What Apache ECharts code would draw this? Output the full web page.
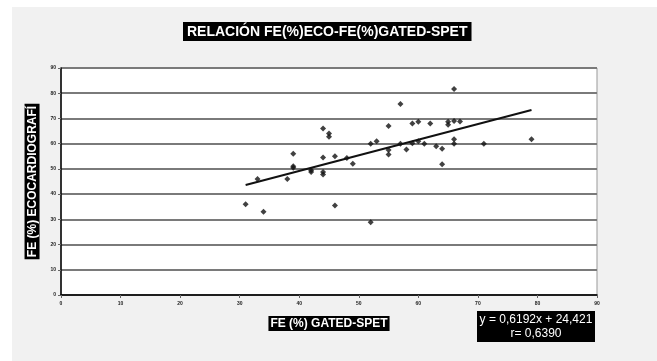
<!DOCTYPE html>
<html>
<head>
<meta charset="utf-8">
<script src="https://cdn.jsdelivr.net/npm/echarts@6/dist/echarts.min.js"></script>
<style>
  html, body { margin: 0; padding: 0; background: #fff; }
  #chart { width: 657px; height: 361px; }
</style>
</head>
<body>
<div id="chart"></div>
<script>
// FE(%) gated-SPET (x) vs FE(%) ecocardiografia (y)
const gatedX = [31, 34, 33, 38, 39, 39, 39, 42, 42, 44, 44, 44, 44, 45, 45, 46, 46, 48, 49, 52, 52, 53, 55, 55, 55, 57, 57, 58, 59, 59, 60, 60, 61, 62, 63, 64, 64, 65, 65, 66, 67, 66, 66, 66, 71, 79];
const ecoY = [36, 33, 46, 46, 56, 51, 50.5, 49.5, 48.8, 66, 54.5, 48.8, 47.8, 64, 62.7, 55, 35.5, 54.3, 52, 60, 28.8, 61, 67, 57.5, 55.7, 75.7, 60, 57.7, 68, 60.2, 68.7, 61, 60, 68, 59, 58, 51.8, 68.7, 67.5, 69, 68.8, 81.7, 61.8, 60, 60, 61.8];
const slope = 0.6192;
const intercept = 24.421;
const xTicks = ["0", "10", "20", "30", "40", "50", "60", "70", "80", "90"];
const yTicks = ["0", "10", "20", "30", "40", "50", "60", "70", "80", "90"];

const points = gatedX.map((x, i) => [x, ecoY[i]]);
const xMin = Math.min(...gatedX);
const xMax = Math.max(...gatedX);
const trend = [[xMin, slope * xMin + intercept], [xMax, slope * xMax + intercept]];

const myChart = echarts.init(document.getElementById("chart"));
const font = "'Liberation Sans', Arial, sans-serif";

myChart.setOption({
  backgroundColor: "#fff",
  animation: false,
  graphic: [
    {
      type: "rect",
      z: -10,
      shape: { x: 12, y: 7, width: 645, height: 354 },
      style: { fill: "#f1f1f1" }
    },
    {
      type: "rect",
      z: -9,
      shape: { x: 61, y: 68, width: 536, height: 227 },
      style: { fill: "#fff" }
    },
    {
      type: "rect",
      z: 10,
      shape: { x: 477, y: 311, width: 118, height: 31 },
      style: { fill: "#000" }
    },
    {
      type: "text",
      z: 11,
      style: {
        x: 536,
        y: 313,
        text: "y = 0,6192x + 24,421\nr= 0,6390",
        fill: "#fff",
        font: "12px " + font,
        lineHeight: 14,
        align: "center",
        verticalAlign: "top"
      }
    }
  ],
  title: {
    text: "RELACIÓN FE(%)ECO-FE(%)GATED-SPET",
    left: 183,
    top: 22,
    padding: [3, 4, 2, 4],
    backgroundColor: "#000",
    textStyle: { color: "#fff", fontSize: 14, fontWeight: "bold", fontFamily: font }
  },
  grid: {
    left: 61,
    right: 60,
    top: 68,
    bottom: 66,
    show: true,
    borderColor: "#999",
    borderWidth: 1
  },
  xAxis: {
    type: "value",
    min: 0,
    max: 90,
    interval: 10,
    name: "FE (%) GATED-SPET",
    nameLocation: "middle",
    nameGap: 21,
    nameTextStyle: {
      color: "#fff", backgroundColor: "#000", fontSize: 12, fontWeight: "bold",
      fontFamily: font, padding: [2, 2, 1, 2]
    },
    axisLine: { show: true, lineStyle: { color: "#000", width: 1.5 } },
    axisTick: { show: true, length: 3, lineStyle: { color: "#666" } },
    axisLabel: {
      color: "#222", fontSize: 5, fontWeight: "bold", fontFamily: font, margin: 6,
      formatter: (v) => xTicks[Math.round(v / 10)]
    },
    splitLine: { show: false }
  },
  yAxis: {
    type: "value",
    min: 0,
    max: 90,
    interval: 10,
    name: "FE (%) ECOCARDIOGRAFÍ",
    nameLocation: "middle",
    nameRotate: 90,
    nameGap: 19,
    nameTextStyle: {
      color: "#fff", backgroundColor: "#000", fontSize: 12, fontWeight: "bold",
      fontFamily: font, padding: [2, 2, 1, 2]
    },
    axisLine: { show: true, lineStyle: { color: "#000", width: 1.5 } },
    axisTick: { show: true, length: 3, lineStyle: { color: "#666" } },
    axisLabel: {
      color: "#222", fontSize: 5, fontWeight: "bold", fontFamily: font, margin: 5,
      formatter: (v) => yTicks[Math.round(v / 10)]
    },
    splitLine: { show: true, lineStyle: { color: "#7a7a7a", width: 2 } }
  },
  series: [
    {
      name: "FE",
      type: "scatter",
      symbol: "diamond",
      symbolSize: 6,
      itemStyle: { color: "#111" },
      data: points,
      z: 3
    },
    {
      name: "tendencia",
      type: "line",
      showSymbol: false,
      lineStyle: { color: "#111", width: 2 },
      data: trend,
      z: 4
    }
  ]
});
</script>
</body>
</html>
